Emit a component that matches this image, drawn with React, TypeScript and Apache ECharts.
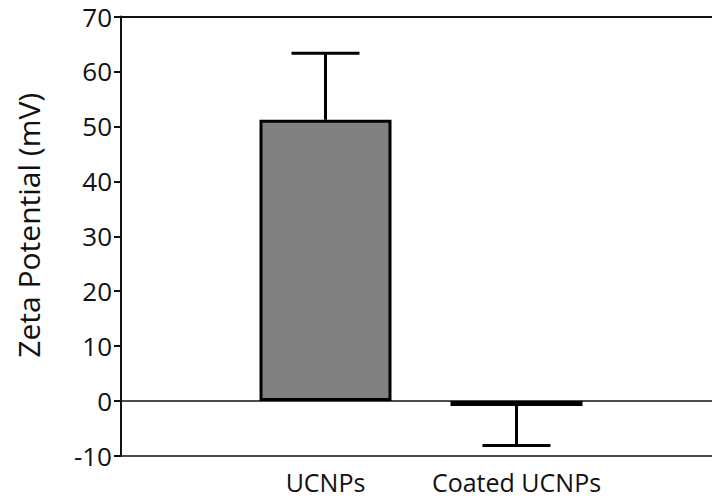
import React, { useEffect, useRef } from "react";
import * as echarts from "echarts";

const categories = ["UCNPs", "Coated UCNPs"];
const means = [51.2, -0.9];
const errors = [12.1, 7.2];
const yMin = -10;
const yMax = 70;
const yInterval = 10;

export default function App() {
  const ref = useRef<HTMLDivElement>(null);
  useEffect(() => {
    if (!ref.current) return;
    const chart = echarts.init(ref.current, null, { renderer: "svg" });
    const font = "'Open Sans', sans-serif";
    const ink = "#111111";
    const errData = means.map((m, i) => [i, m, m >= 0 ? m + errors[i] : m - errors[i]]);
    chart.setOption({
      animation: false,
      backgroundColor: "#ffffff",
      grid: [
        { left: 121, right: -2, top: 16.5, bottom: 45 },
        { left: 230, width: 382, top: 16.5, bottom: 45 },
      ],
      xAxis: [
        {
          gridIndex: 0, type: "value", min: 0, max: 1, position: "bottom",
          axisLine: { show: true, onZero: true, lineStyle: { color: ink, width: 1.5 } },
          axisTick: { show: false }, axisLabel: { show: false }, splitLine: { show: false },
        },
        {
          gridIndex: 0, type: "value", min: 0, max: 1, position: "bottom",
          axisLine: { show: true, onZero: false, lineStyle: { color: ink, width: 1.5 } },
          axisTick: { show: false }, axisLabel: { show: false }, splitLine: { show: false },
        },
        {
          gridIndex: 0, type: "value", min: 0, max: 1, position: "top",
          axisLine: { show: true, onZero: false, lineStyle: { color: ink, width: 2.2 } },
          axisTick: { show: false }, axisLabel: { show: false }, splitLine: { show: false },
        },
        {
          gridIndex: 1, type: "category", data: categories, position: "bottom",
          axisLine: { show: false, onZero: false }, axisTick: { show: false },
          axisLabel: { show: true, interval: 0, fontSize: 25, fontFamily: font, color: ink, margin: 13 },
          splitLine: { show: false },
        },
      ],
      yAxis: [
        {
          gridIndex: 0, type: "value", min: yMin, max: yMax, interval: yInterval,
          name: "Zeta Potential (mV)", nameLocation: "middle", nameGap: 78,
          nameTextStyle: { fontSize: 30, fontFamily: font, color: ink, padding: [0, 0, 0, 22] },
          axisLine: { show: true, lineStyle: { color: ink, width: 2 } },
          axisTick: { show: true, inside: false, length: 7, lineStyle: { color: ink, width: 2 } },
          axisLabel: { fontSize: 26, fontFamily: font, color: ink, margin: 9 },
          splitLine: { show: false },
        },
        {
          gridIndex: 1, type: "value", min: yMin, max: yMax, interval: yInterval, show: false,
        },
      ],
      series: [
        {
          type: "bar", xAxisIndex: 3, yAxisIndex: 1, data: means, barWidth: 132,
          itemStyle: { color: "#808080", borderColor: "#000000", borderWidth: 3 },
        },
        {
          type: "custom", xAxisIndex: 3, yAxisIndex: 1, data: errData,
          renderItem: (params: any, api: any) => {
            const x = api.value(0);
            const start = api.coord([x, api.value(1)]);
            const end = api.coord([x, api.value(2)]);
            const half = 34;
            const style = { stroke: "#000000", lineWidth: 3, fill: "none" };
            return {
              type: "group",
              children: [
                { type: "line", shape: { x1: start[0], y1: start[1], x2: end[0], y2: end[1] }, style },
                { type: "line", shape: { x1: end[0] - half, y1: end[1], x2: end[0] + half, y2: end[1] }, style },
              ],
            };
          },
          z: 1,
        },
      ],
    });
    return () => chart.dispose();
  }, []);
  return (
    <div
      ref={ref}
      style={{ position: "fixed", left: 0, top: 0, width: 712, height: 501, background: "#fff" }}
    />
  );
}
